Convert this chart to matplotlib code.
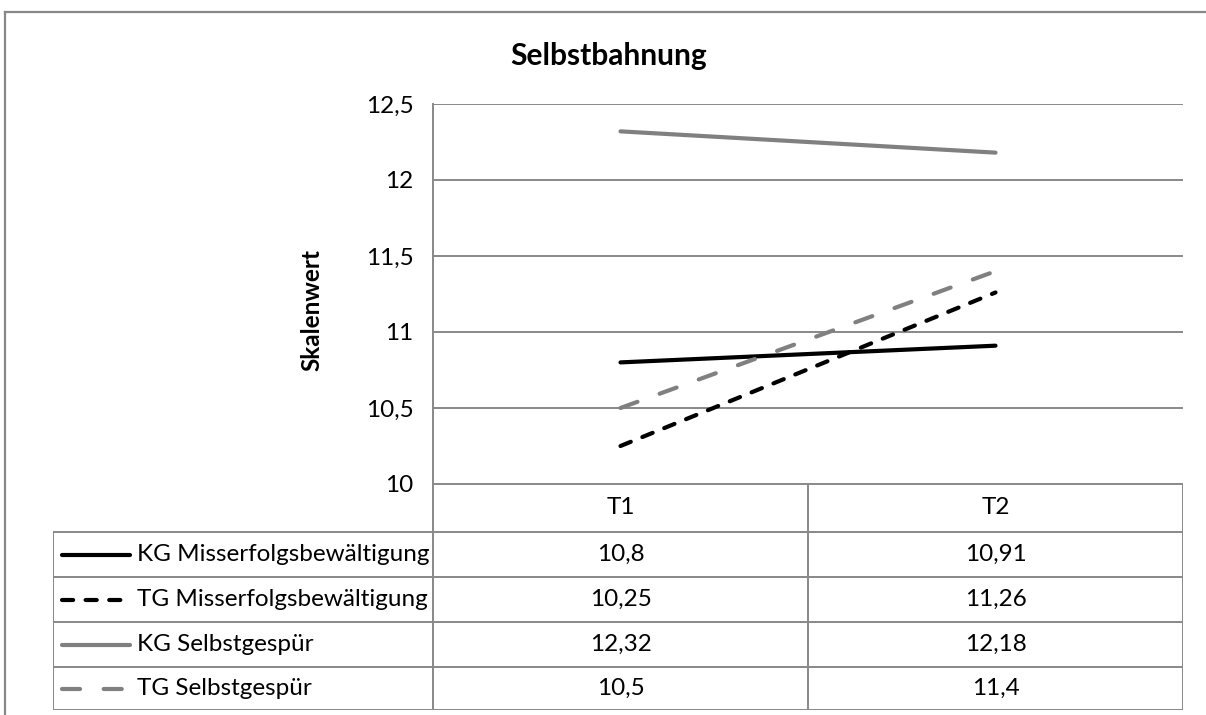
import matplotlib.pyplot as plt
from matplotlib.lines import Line2D

plt.rcParams['font.family'] = ['Lato', 'DejaVu Sans']
plt.rcParams['lines.scale_dashes'] = False

# Werte der vier Gruppen zu T1 und T2
zeitpunkte = ['T1', 'T2']
gruppen = ['KG Misserfolgsbewältigung', 'TG Misserfolgsbewältigung',
           'KG Selbstgespür', 'TG Selbstgespür']
kg_misserfolg = [10.8, 10.91]
tg_misserfolg = [10.25, 11.26]
kg_selbst = [12.32, 12.18]
tg_selbst = [10.5, 11.4]
y_ticks = [10, 10.5, 11, 11.5, 12, 12.5]

reihen = [kg_misserfolg, tg_misserfolg, kg_selbst, tg_selbst]
farben = ['#000000', '#000000', '#808080', '#808080']
stile = ['-', (0, (8, 9)), '-', (0, (13, 17))]

W, H = 1206, 715
grid_col = '#888888'
fs = 17.5
fig = plt.figure(figsize=(W / 100, H / 100), dpi=100)


def fx(px):
    return px / W


def fy(py):
    return 1 - py / H


# Rahmen des Diagramms (links und oben sichtbar)
fig.add_artist(Line2D([fx(5), fx(5)], [fy(12), 0], color=grid_col, lw=1.6))
fig.add_artist(Line2D([fx(5), 1], [fy(12), fy(12)], color=grid_col, lw=1.6))

left, right, top, bottom = 433, 1183, 104, 484
ax = fig.add_axes([fx(left), fy(bottom), fx(right - left), fy(top) - fy(bottom)])
x = [i + 0.5 for i in range(len(zeitpunkte))]
for werte, farbe, stil in zip(reihen, farben, stile):
    ax.plot(x, werte, color=farbe, linestyle=stil, lw=3,
            solid_capstyle='round', dash_capstyle='round', zorder=3)

ax.set_xlim(0, len(zeitpunkte))
ax.set_ylim(y_ticks[0], y_ticks[-1])
ax.set_yticks(y_ticks)
ax.set_yticklabels([f'{v:g}'.replace('.', ',') for v in y_ticks], fontsize=fs)
ax.set_xticks([])
ax.tick_params(axis='y', length=0, pad=14)
ax.grid(axis='y', color=grid_col, lw=1.4)
ax.set_axisbelow(True)
for side in ['top', 'right', 'bottom']:
    ax.spines[side].set_visible(False)
ax.spines['left'].set_color(grid_col)
ax.spines['left'].set_linewidth(1.4)

fig.text(fx(609), fy(56), 'Selbstbahnung', ha='center', va='center',
         fontsize=21.5, fontweight='bold')
fig.text(fx(312), fy(310), 'Skalenwert', ha='center', va='center',
         rotation=90, fontsize=17.5, fontweight='bold')

# Datentabelle unter dem Diagramm
t_left = 53
x0 = (t_left - left) / ((right - left) / len(zeitpunkte))
rows = [484, 532, 577, 622, 667, 710]
tab = fig.add_axes([fx(t_left), fy(rows[-1]), fx(right - t_left), fy(rows[0]) - fy(rows[-1])])
tab.set_xlim(x0, len(zeitpunkte))
tab.set_ylim(rows[-1], rows[0])
tab.axis('off')

lk = dict(color=grid_col, lw=1.4, solid_capstyle='projecting')
for i, r in enumerate(rows):
    xa = x0 if i > 0 else 0
    tab.plot([xa, len(zeitpunkte)], [r, r], **lk)
for c in range(len(zeitpunkte) + 1):
    tab.plot([c, c], [rows[0], rows[-1]], **lk)
tab.plot([x0, x0], [rows[1], rows[-1]], **lk)

for i, t in enumerate(zeitpunkte):
    tab.text(i + 0.5, (rows[0] + rows[1]) / 2, t, ha='center', va='center', fontsize=fs)

px_unit = (right - left) / len(zeitpunkte)
for k, (name, werte, farbe, stil) in enumerate(zip(gruppen, reihen, farben, stile)):
    yc = (rows[k + 1] + rows[k + 2]) / 2
    tab.plot([x0 + (62 - t_left) / px_unit, x0 + (130 - t_left) / px_unit], [yc, yc],
             color=farbe, linestyle=stil, lw=3, solid_capstyle='round',
             dash_capstyle='round')
    tab.text(x0 + (137 - t_left) / px_unit, yc, name, ha='left', va='center', fontsize=fs)
    for i, v in enumerate(werte):
        tab.text(i + 0.5, yc, f'{v:g}'.replace('.', ','), ha='center', va='center',
                 fontsize=fs)

fig.savefig('out.png', dpi=100)
